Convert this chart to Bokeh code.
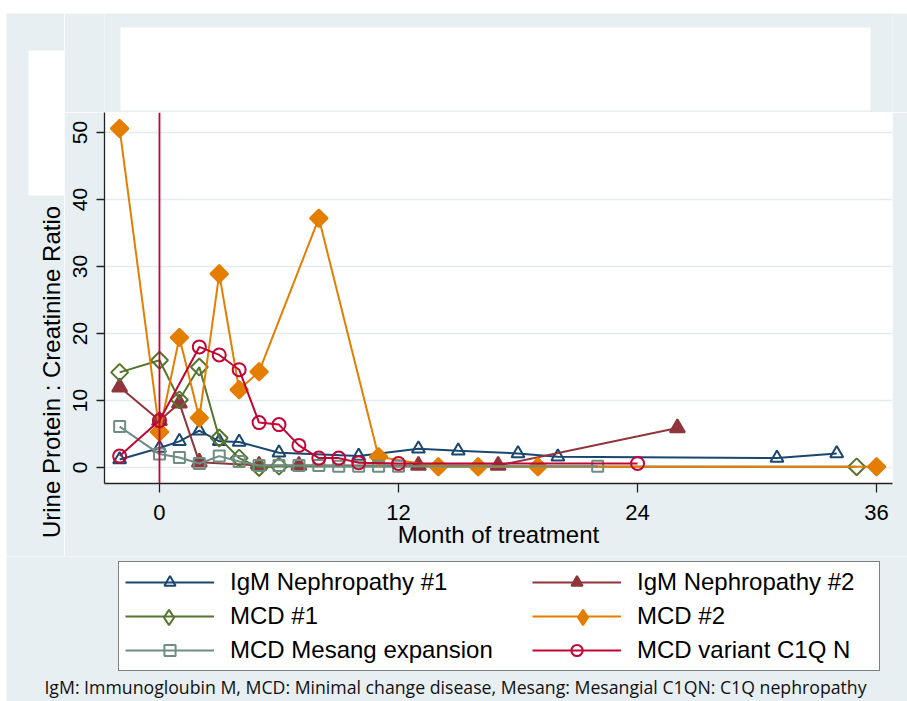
import math
from bokeh.plotting import figure
from bokeh.layouts import column, row
from bokeh.models import (Legend, LegendItem, Span, Label, BoxAnnotation,
                          FixedTicker, Range1d, Spacer, CDSView, IndexFilter)
from bokeh.embed import file_html
from bokeh.resources import INLINE

# ---- data ----
igm1_x = [-2, 0, 1, 2, 3, 4, 6, 10, 13, 15, 18, 20, 31, 34]
igm1_y = [1.2, 2.9, 3.9, 5.5, 3.9, 3.8, 2.2, 1.7, 2.8, 2.5, 2.1, 1.6, 1.4, 2.1]

igm2_x = [-2, 0, 1, 2, 5, 7, 13, 17, 26]
igm2_y = [12.0, 7.0, 9.6, 0.8, 0.3, 0.3, 0.3, 0.3, 5.9]

mcd1_x = [-2, 0, 1, 2, 3, 4, 5, 6, 35]
mcd1_y = [14.2, 16.0, 10.1, 15.0, 4.4, 1.4, 0.0, 0.2, 0.1]

mcd2_x = [-2, 0, 1, 2, 3, 4, 5, 8, 11, 14, 16, 19, 36]
mcd2_y = [50.6, 5.3, 19.4, 7.4, 28.9, 11.6, 14.3, 37.2, 1.6, 0.1, 0.1, 0.1, 0.1]

mesang_x = [-2, 0, 1, 2, 3, 4, 5, 6, 7, 8, 9, 10, 11, 12, 22]
mesang_y = [6.1, 2.0, 1.5, 0.6, 1.7, 0.9, 0.3, 0.3, 0.3, 0.3, 0.2, 0.2, 0.2, 0.2, 0.2]

c1q_x = [-2, 0, 2, 3, 4, 5, 6, 7, 8, 9, 10, 12, 24]
c1q_y = [1.7, 7.0, 18.0, 16.8, 14.6, 6.7, 6.4, 3.3, 1.4, 1.4, 0.7, 0.6, 0.6]

x_ticks = [0, 12, 24, 36]
y_ticks = [0, 10, 20, 30, 40, 50]

names = ["IgM Nephropathy #1", "IgM Nephropathy #2", "MCD #1", "MCD #2",
         "MCD Mesang expansion", "MCD variant C1Q N"]
x_label = "Month of treatment"
y_label = "Urine Protein : Creatinine Ratio"
footnote = ("IgM: Immunogloubin M, MCD: Minimal change disease, Mesang: "
            "Mesangial C1QN: C1Q nephropathy")

# ---- styling ----
BG = "#e8eff2"
FONT = "Liberation Sans"
NAVY, MAROON, GREEN, ORANGE, TEAL, CRAN = ("#1a476f", "#90353b", "#55752f",
                                           "#e37e00", "#6e8e84", "#c10534")
styles = [
    (NAVY, "triangle", 13, False, 0),
    (MAROON, "triangle", 15, True, 0),
    (GREEN, "square", 12, False, math.pi / 4),
    (ORANGE, "square", 12.5, True, math.pi / 4),
    (TEAL, "square", 11, False, 0),
    (CRAN, "circle", 13, False, 0),
]
data = [(igm1_x, igm1_y), (igm2_x, igm2_y), (mcd1_x, mcd1_y),
        (mcd2_x, mcd2_y), (mesang_x, mesang_y), (c1q_x, c1q_y)]


def helper(w, h, xr, yr, bl=0, br=0):
    # decoration strip; ranges are page pixel positions
    f = figure(width=w, height=h, output_backend="svg", toolbar_location=None,
               x_range=Range1d(*xr), y_range=Range1d(*yr),
               x_axis_type=None, y_axis_type=None, min_border=0,
               min_border_left=bl, min_border_right=br)
    f.background_fill_color = BG
    f.border_fill_color = BG
    f.outline_line_color = None
    return f


def wbox(f, l, r, t, b):
    f.add_layout(BoxAnnotation(left=l, right=r, top=t, bottom=b,
                               fill_color="white", fill_alpha=1,
                               line_color=None))


# ---- main plot (page x 64..907, y 112..556) ----
p = figure(width=843, height=444, output_backend="svg", toolbar_location=None,
           x_range=Range1d(-2.76, 36.80), y_range=Range1d(-2.39, 52.99),
           min_border_left=40, min_border_right=15, min_border_top=0,
           min_border_bottom=73)
p.border_fill_color = BG
p.background_fill_color = "white"
p.outline_line_color = None
p.xgrid.visible = False
p.ygrid.grid_line_color = "#e3ecf0"
p.ygrid.grid_line_width = 1.5

for ax in (p.xaxis, p.yaxis):
    ax.minor_tick_line_color = None
    ax.major_tick_in = 0
    ax.axis_line_color = "#222222"
    ax.major_tick_line_color = "#222222"
    ax.axis_line_width = 1.3
    ax.major_tick_line_width = 1.3
    ax.major_label_text_font = FONT
    ax.major_label_text_color = "black"
p.xaxis.ticker = FixedTicker(ticks=x_ticks)
p.yaxis.ticker = FixedTicker(ticks=y_ticks)
p.xaxis.major_tick_out = 9
p.yaxis.major_tick_out = 8
p.xaxis.major_label_text_font_size = "22px"
p.yaxis.major_label_text_font_size = "21px"
p.yaxis.major_label_orientation = "vertical"
p.xaxis.major_label_standoff = 12
p.yaxis.major_label_standoff = 9
p.xaxis.axis_label = x_label
p.xaxis.axis_label_text_font = FONT
p.xaxis.axis_label_text_font_size = "24px"
p.xaxis.axis_label_text_font_style = "normal"
p.xaxis.axis_label_text_color = "black"
p.xaxis.axis_label_standoff = -2

for (xs, ys), (col, mk, sz, filled, ang) in zip(data, styles):
    p.line(xs, ys, line_color=col, line_width=2)
    p.scatter(xs, ys, marker=mk, size=sz, angle=ang, line_color=col,
              line_width=2, fill_color=col if filled else None)

p.add_layout(Span(location=0, dimension="height", line_color=CRAN,
                  line_width=1.8))

# ---- left strip (page x 6..64, y 13..556): blank box + y title ----
left = helper(58, 543, (6, 64), (556, 13))
wbox(left, 28, 64, 50, 195)
left.add_layout(Label(x=50.5, y=371.5, text=y_label, angle=math.pi / 2,
                      text_align="center", text_baseline="middle",
                      text_font=FONT, text_font_size="24px",
                      text_color="black"))

# ---- top strip (page x 64..907, y 13..112): blank title box ----
top = helper(843, 99, (104, 892), (112, 13), bl=40, br=15)
wbox(top, 120, 870, 27, 110)

# ---- bottom strip (page x 6..907, y 556..701): legend + footnote ----
# legend keys use the same series; their single kept point lies outside
# this strip's visible range, so only the legend keys are drawn
bottom = helper(901, 145, (6, 907), (701, 556))


def keep0():
    return CDSView(filter=IndexFilter(indices=[0]))


lines, marks = [], []
for (xs, ys), (col, mk, sz, filled, ang) in zip(data, styles):
    lines.append(bottom.line(xs, ys, line_color=col, line_width=2, view=keep0()))
    if mk == "square" and ang:
        mk = "diamond"
    marks.append(bottom.scatter(xs, ys, marker=mk, size=sz, line_color=col,
                                line_width=2,
                                fill_color=col if filled else None,
                                view=keep0()))


def item(i, with_mark=True):
    r = [lines[i], marks[i]] if with_mark else [lines[i]]
    return LegendItem(label=names[i], renderers=r)


common = dict(label_text_font=FONT, label_text_font_size="24px",
              label_text_color="black", glyph_width=89, glyph_height=28,
              label_height=28, label_standoff=16, padding=6, spacing=6,
              margin=0, label_width=643)
legL = Legend(items=[item(0), item(2, False), item(4)],
              location=(112, 30), border_line_color="black",
              border_line_width=1, background_fill_color="white",
              background_fill_alpha=1, **common)
legR = Legend(items=[item(1), item(3, False), item(5)],
              location=(526, 37), border_line_color=None,
              background_fill_alpha=0, **common)
bottom.add_layout(legL)
bottom.add_layout(legR)
# larger diamond keys for the two MCD rows
for i, vx in ((2, 118), (3, 532)):
    bottom.add_layout(Legend(
        items=[LegendItem(label="", renderers=[marks[i]])],
        location=(vx, 65), border_line_color=None, background_fill_alpha=0,
        glyph_width=89, glyph_height=38, label_height=20, label_width=20,
        label_standoff=0, padding=0, spacing=0, margin=0))
bottom.add_layout(Label(x=455, y=686, text=footnote, text_align="center",
                        text_baseline="middle", text_font="Open Sans",
                        text_font_size="17.7px", text_color="#111111"))

layout = column(Spacer(width=907, height=13),
                row(Spacer(width=6, height=688),
                    column(row(left, column(top, p)), bottom)))
open("out.html", "w").write(file_html(layout, INLINE))
